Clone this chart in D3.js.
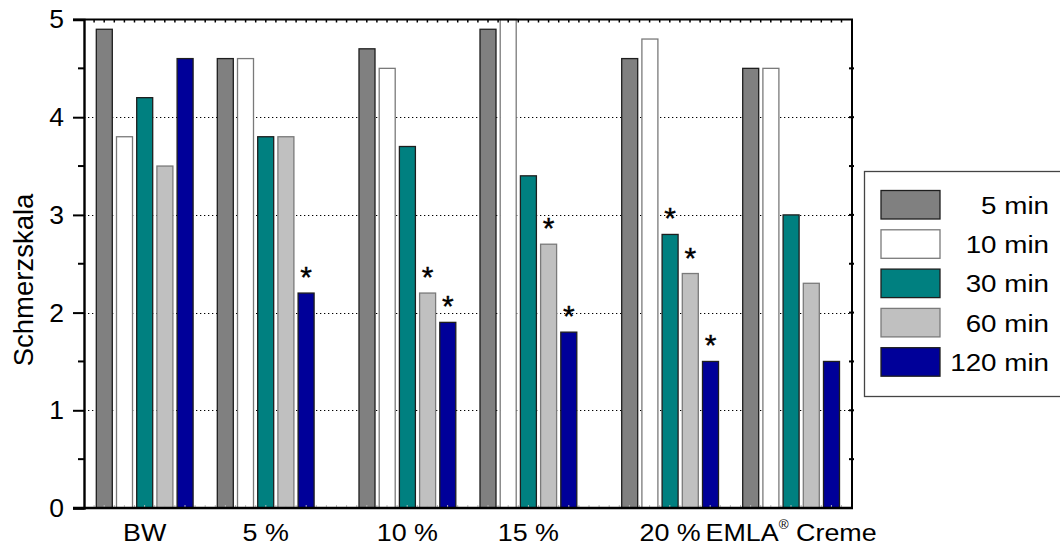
<!DOCTYPE html>
<html>
<head>
<meta charset="utf-8">
<script src="https://cdn.jsdelivr.net/npm/d3@7"></script>
<style>
  html, body { margin: 0; padding: 0; background: #fff; }
  svg { display: block; font-family: "Liberation Sans", Arial, Helvetica, sans-serif; }
</style>
</head>
<body>
<svg id="chart" width="1060" height="546"></svg>
<script>
// Pain scores per preparation and time point
const categories = ["BW", "5 %", "10 %", "15 %", "20 %", "EMLA® Creme"];
const series = ["5 min", "10 min", "30 min", "60 min", "120 min"];
const v5min   = [4.9, 4.6, 4.7, 4.9, 4.6, 4.5];
const v10min  = [3.8, 4.6, 4.5, 5.0, 4.8, 4.5];
const v30min  = [4.2, 3.8, 3.7, 3.4, 2.8, 3.0];
const v60min  = [3.5, 3.8, 2.2, 2.7, 2.4, 2.3];
const v120min = [4.6, 2.2, 1.9, 1.8, 1.5, 1.5];
// significance markers (1 = significant)
const sig30min  = [0, 0, 0, 0, 1, 0];
const sig60min  = [0, 0, 1, 1, 1, 0];
const sig120min = [0, 1, 1, 1, 1, 0];
const yTicks = [0, 1, 2, 3, 4, 5];

const values = [v5min, v10min, v30min, v60min, v120min];
const sigs = [null, null, sig30min, sig60min, sig120min];

const fills   = ["#808080", "#ffffff", "#008080", "#c0c0c0", "#000099"];
const strokes = ["#1e1e1e", "#7a7a7a", "#1e1e1e", "#7a7a7a", "#1e1e1e"];

const svg = d3.select("#chart");
const plot = { left: 84, right: 852, top: 19.5, bottom: 508 };

const y = d3.scaleLinear().domain([0, 5]).range([plot.bottom, plot.top]);

// groups are laid out in pairs: (BW, 5 %), (10 %, 15 %), (20 %, EMLA)
const pairX = d3.scaleBand().domain(d3.range(3)).range([96.3, 96.3 + 3 * 262.7]);
const memberX = d3.scaleBand().domain([0, 1]).range([0, 242]);
const seriesX = d3.scaleBand().domain(series).range([0, 96.8]).paddingInner(0.208);
const groupLeft = i => pairX(Math.floor(i / 2)) + memberX(i % 2);
const groupCenter = i => groupLeft(i) + 96.8 / 2;

// text helper: places a label with a slight horizontal widening
function placeText(sel, x, y, sx) {
  sel.attr("x", null).attr("y", null)
     .attr("transform", (d, i) => `translate(${typeof x === "function" ? x(d, i) : x},${typeof y === "function" ? y(d, i) : y}) scale(${sx},1)`);
}

// dotted horizontal grid
svg.append("g")
  .selectAll("line")
  .data(yTicks.filter(t => t > 0 && t < 5))
  .join("line")
  .attr("x1", plot.left).attr("x2", plot.right)
  .attr("y1", d => Math.round(y(d)) + 0.5).attr("y2", d => Math.round(y(d)) + 0.5)
  .attr("stroke", "#000").attr("stroke-width", 1)
  .attr("stroke-dasharray", "1.3,2.7");

// bars
const barData = [];
categories.forEach((c, i) => {
  series.forEach((s, j) => {
    barData.push({ cat: i, s, j, v: values[j][i], sig: sigs[j] ? sigs[j][i] : 0 });
  });
});

svg.append("g")
  .selectAll("rect")
  .data(barData)
  .join("rect")
  .attr("x", d => groupLeft(d.cat) + seriesX(d.s))
  .attr("y", d => y(d.v))
  .attr("width", seriesX.bandwidth())
  .attr("height", d => y(0) - y(d.v))
  .attr("fill", d => fills[d.j])
  .attr("stroke", d => strokes[d.j])
  .attr("stroke-width", 1.3);

// significance asterisks
svg.append("g")
  .selectAll("text")
  .data(barData.filter(d => d.sig))
  .join("text")
  .attr("x", d => groupLeft(d.cat) + seriesX(d.s) + seriesX.bandwidth() / 2)
  .attr("y", d => y(d.v) - 6)
  .attr("text-anchor", "middle")
  .attr("font-size", 30)
  .attr("fill", "#000")
  .attr("stroke", "#000").attr("stroke-width", 0.4)
  .text("*");

// frame: top and right axes
const frame = svg.append("g");
frame.append("line")
  .attr("x1", plot.left - 11).attr("x2", plot.right + 1)
  .attr("y1", plot.top).attr("y2", plot.top)
  .attr("stroke", "#000").attr("stroke-width", 2);
frame.append("line")
  .attr("x1", plot.right).attr("x2", plot.right)
  .attr("y1", plot.top).attr("y2", plot.bottom + 1)
  .attr("stroke", "#000").attr("stroke-width", 2);

// small ticks along the top edge
const edgeTicks = d3.range(plot.left + 10.1, plot.right - 2, 10.1);
frame.append("g").selectAll("line")
  .data(edgeTicks).join("line")
  .attr("x1", d => d).attr("x2", d => d)
  .attr("y1", plot.top).attr("y2", plot.top + 3)
  .attr("stroke", "#000").attr("stroke-width", 1.5);

// faint ticks along the bottom edge
frame.append("g").selectAll("line")
  .data(edgeTicks).join("line")
  .attr("x1", d => d).attr("x2", d => d)
  .attr("y1", plot.bottom - 3).attr("y2", plot.bottom)
  .attr("stroke", "#bbb").attr("stroke-width", 1);

// right-side ticks every half unit
frame.append("g").selectAll("line")
  .data(d3.range(0.5, 5, 0.5)).join("line")
  .attr("x1", plot.right - 3).attr("x2", plot.right + 2)
  .attr("y1", d => y(d)).attr("y2", d => y(d))
  .attr("stroke", "#000").attr("stroke-width", 2);

// left axis
const yAxis = d3.axisLeft(y).tickValues(yTicks).tickSize(11).tickPadding(9).tickFormat(d3.format("d"));
const gy = svg.append("g").attr("transform", `translate(${plot.left},0)`).call(yAxis);
gy.select(".domain").attr("stroke-width", 2.4);
gy.selectAll(".tick line").attr("stroke-width", 2);
gy.selectAll(".tick text").attr("font-size", 26.5).attr("font-family", "Liberation Sans, Arial, sans-serif").attr("fill", "#000");
// minor ticks
gy.append("g").selectAll("line")
  .data(d3.range(0.5, 5, 1)).join("line")
  .attr("x1", -6).attr("x2", 0)
  .attr("y1", d => y(d)).attr("y2", d => y(d))
  .attr("stroke", "#000").attr("stroke-width", 2);

// bottom axis line
svg.append("line")
  .attr("x1", plot.left - 11).attr("x2", plot.right + 1)
  .attr("y1", plot.bottom).attr("y2", plot.bottom)
  .attr("stroke", "#000").attr("stroke-width", 2.4);

// category labels
const catLabels = svg.append("g")
  .selectAll("text")
  .data(categories)
  .join("text")
  .attr("text-anchor", "middle")
  .attr("font-size", 24)
  .attr("fill", "#000");
placeText(catLabels, (d, i) => groupCenter(i), 540.5, 1.12);
catLabels.each(function (d) {
  const t = d3.select(this);
  if (d.includes("®")) {
    const [a, b] = d.split("®");
    t.append("tspan").text(a);
    t.append("tspan").attr("font-size", 12).attr("dy", -12).text("®");
    t.append("tspan").attr("dy", 12).text(b);
  } else {
    t.text(d);
  }
});

// y title
svg.append("text")
  .attr("transform", `translate(33,280) rotate(-90)`)
  .attr("text-anchor", "middle")
  .attr("font-size", 27.5)
  .attr("fill", "#000")
  .text("Schmerzskala");

// legend
const lg = svg.append("g");
lg.append("rect")
  .attr("x", 864.5).attr("y", 171.5)
  .attr("width", 220).attr("height", 225)
  .attr("fill", "#fff").attr("stroke", "#444").attr("stroke-width", 1.3);
const rows = lg.selectAll("g.row").data(series).join("g")
  .attr("class", "row")
  .attr("transform", (d, i) => `translate(0,${190.5 + i * 39.3})`);
rows.append("rect")
  .attr("x", 881).attr("y", 0).attr("width", 59).attr("height", 28.5)
  .attr("fill", (d, i) => fills[i]).attr("stroke", (d, i) => strokes[i]).attr("stroke-width", 1.3);
const legText = rows.append("text")
  .attr("text-anchor", "end")
  .attr("font-size", 24.7)
  .attr("fill", "#000")
  .text(d => d);
placeText(legText, 1049, 23.3, 1.125);
</script>
</body>
</html>
